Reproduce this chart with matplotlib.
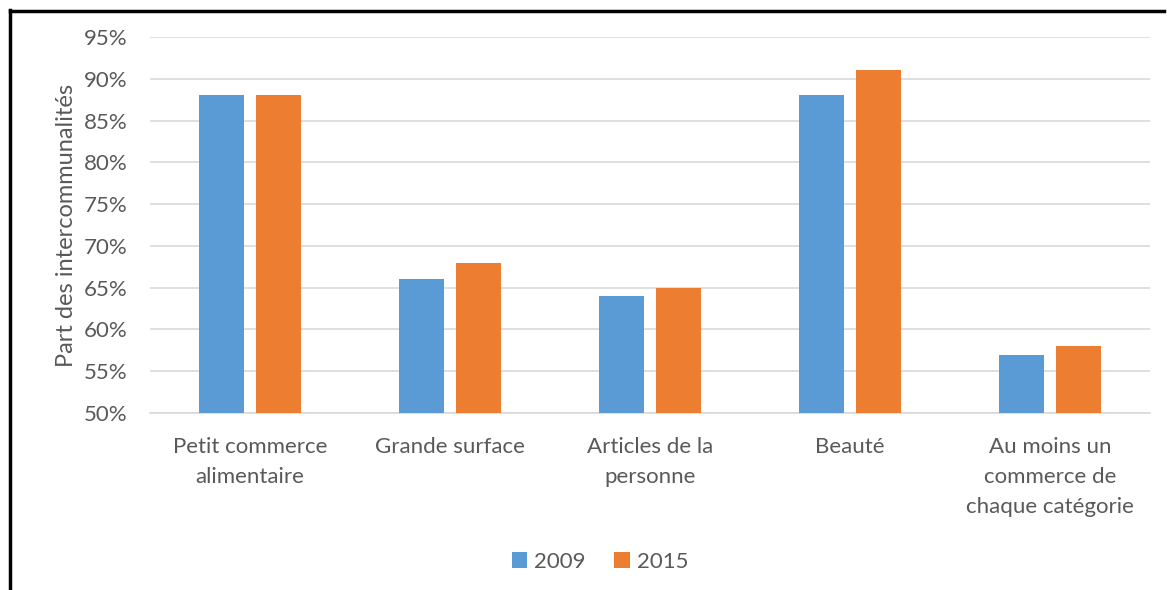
import matplotlib
matplotlib.use("Agg")
import matplotlib.pyplot as plt
import matplotlib.ticker as ticker
from matplotlib.lines import Line2D
import numpy as np

plt.rcParams.update({
    "font.family": ["Lato", "DejaVu Sans"],
    "font.size": 16,
    "text.color": "#595959",
    "axes.labelcolor": "#595959",
    "xtick.color": "#595959",
    "ytick.color": "#595959",
})

# ─── données ─────────────────────────────────────────────
categories = ["Petit commerce\nalimentaire", "Grande surface", "Articles de la\npersonne",
              "Beauté", "Au moins un\ncommerce de\nchaque catégorie"]
years = ["2009", "2015"]
part_2009 = [88, 66, 64, 88, 57]
part_2015 = [88, 68, 65, 91, 58]
yticks = list(range(50, 96, 5))

BLUE = "#5B9BD5"
ORANGE = "#ED7D31"

fig = plt.figure(figsize=(11.67, 5.90), dpi=100)
ax = fig.add_axes([150 / 1167, (590 - 413) / 590, 1000 / 1167, 376 / 590])

x = np.arange(len(categories))
w = 0.225
off = 0.144
ax.bar(x - off, part_2009, w, bottom=0, color=BLUE, label=years[0], zorder=3)
ax.bar(x + off, part_2015, w, bottom=0, color=ORANGE, label=years[1], zorder=3)

ax.set_ylim(50, 95)
ax.set_xlim(-0.5, len(categories) - 0.5)
ax.set_yticks(yticks)
ax.yaxis.set_major_formatter(ticker.FuncFormatter(lambda v, _: f"{v:.0f}%"))
ax.grid(axis="y", color="#D9D9D9", linewidth=1.2, zorder=0)
ax.set_xticks(x)
ax.set_xticklabels(categories, linespacing=1.65, va="top")
ax.tick_params(axis="both", length=0, labelsize=16)
ax.tick_params(axis="x", pad=17)
ax.tick_params(axis="y", pad=16)
for s in ["top", "right", "left"]:
    ax.spines[s].set_visible(False)
ax.spines["bottom"].set_color("#D9D9D9")
ax.spines["bottom"].set_linewidth(1.2)
ax.set_ylabel("Part des intercommunalités", fontsize=17, labelpad=5)

ax.legend(loc="center", bbox_to_anchor=(600 / 1167, 1 - 562 / 590),
          bbox_transform=fig.transFigure, ncol=2, frameon=False,
          handlelength=0.7, handleheight=0.7, handletextpad=0.3,
          columnspacing=1.3, fontsize=16)

# cadre noir (haut et gauche)
fig.add_artist(Line2D([10 / 1167, 10 / 1167], [0, 1 - 10 / 590],
                      transform=fig.transFigure, color="black", linewidth=2.5))
fig.add_artist(Line2D([10 / 1167, 1164 / 1167], [1 - 11 / 590, 1 - 11 / 590],
                      transform=fig.transFigure, color="black", linewidth=2.5))

fig.savefig("out.png", dpi=100, facecolor="white")
